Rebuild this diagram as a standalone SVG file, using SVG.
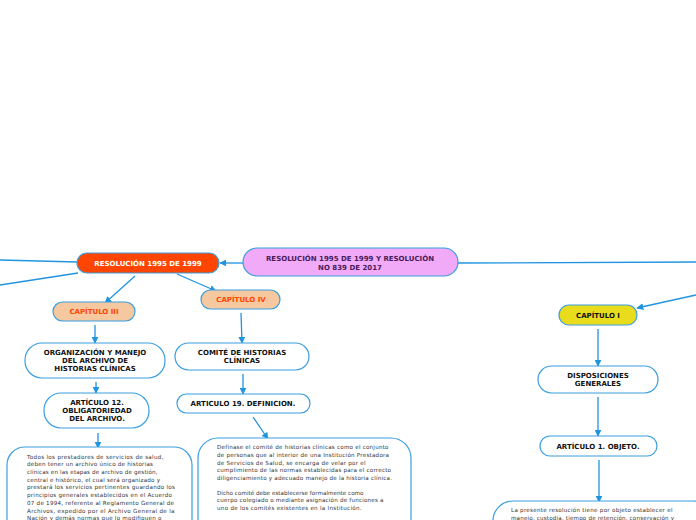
<svg xmlns="http://www.w3.org/2000/svg" width="696" height="520" viewBox="0 0 696 520">
<defs>
<marker id="ah" viewBox="0 0 10 10" refX="9" refY="5" markerWidth="7" markerHeight="7" markerUnits="userSpaceOnUse" orient="auto"><path d="M0,0 L10,5 L0,10 z" fill="#2094e0"/></marker>
<style>
.c{stroke:#2094e0;stroke-width:1.3;fill:none}
.n{stroke:#3a9fe0;stroke-width:1.2}
.w{fill:#ffffff}
.l{font-family:"DejaVu Sans",Verdana,sans-serif;font-weight:bold;font-size:7px;text-anchor:middle;fill:#111}
.b{font-family:"DejaVu Sans",Verdana,sans-serif;font-size:5.6px;fill:#333333}
</style>
</defs>
<rect width="696" height="520" fill="#ffffff"/>
<g id="connectors">
<line class="c" x1="243" y1="263" x2="220" y2="263" marker-end="url(#ah)"/>
<line class="c" x1="458" y1="263" x2="696" y2="262"/>
<line class="c" x1="77" y1="262" x2="0" y2="260"/>
<line class="c" x1="78" y1="273" x2="0" y2="285"/>
<line class="c" x1="135" y1="276" x2="105" y2="303" marker-end="url(#ah)"/>
<line class="c" x1="177" y1="274" x2="216" y2="291" marker-end="url(#ah)"/>
<line class="c" x1="95" y1="325" x2="95" y2="343" marker-end="url(#ah)"/>
<line class="c" x1="96" y1="382" x2="96" y2="393" marker-end="url(#ah)"/>
<line class="c" x1="98" y1="433" x2="98" y2="448" marker-end="url(#ah)"/>
<line class="c" x1="241" y1="313" x2="242" y2="343" marker-end="url(#ah)"/>
<line class="c" x1="243" y1="374" x2="243" y2="394" marker-end="url(#ah)"/>
<line class="c" x1="253" y1="417" x2="268" y2="439" marker-end="url(#ah)"/>
<line class="c" x1="696" y1="295" x2="637" y2="308" marker-end="url(#ah)"/>
<line class="c" x1="598" y1="329" x2="598" y2="366" marker-end="url(#ah)"/>
<line class="c" x1="598" y1="397" x2="598" y2="436" marker-end="url(#ah)"/>
<line class="c" x1="599" y1="460" x2="599" y2="502" marker-end="url(#ah)"/>
</g>
<g id="root">
<rect class="n" x="243" y="248" width="215" height="28" rx="14" fill="#f0aaf8"/>
<text class="l" x="350" y="261" style="fill:#4a1a5a">RESOLUCIÓN 1995 DE 1999 Y RESOLUCIÓN</text>
<text class="l" x="350" y="269.5" style="fill:#4a1a5a">NO 839 DE 2017</text>
</g>
<g id="res1995">
<rect class="n" x="77" y="253" width="142" height="20" rx="10" fill="#ff4500"/>
<text class="l" x="148" y="266" style="fill:#ffffff">RESOLUCIÓN 1995 DE 1999</text>
</g>
<g id="cap3">
<rect class="n" x="53" y="302" width="82" height="19" rx="9.5" fill="#f5c8a0"/>
<text class="l" x="94" y="314" style="fill:#ff4500">CAPÍTULO III</text>
</g>
<g id="cap4">
<rect class="n" x="201" y="290" width="79" height="19" rx="9.5" fill="#f5c8a0"/>
<text class="l" x="241" y="302" style="fill:#ff4500">CAPÍTULO IV</text>
</g>
<g id="organizacion">
<rect class="n w" x="25" y="343" width="140" height="35" rx="17"/>
<text class="l" x="95" y="355">ORGANIZACIÓN Y MANEJO</text>
<text class="l" x="95" y="363">DEL ARCHIVO DE</text>
<text class="l" x="95" y="371">HISTORIAS CLÍNICAS</text>
</g>
<g id="art12">
<rect class="n w" x="44" y="393" width="105" height="35" rx="17"/>
<text class="l" x="97" y="405">ARTÍCULO 12.</text>
<text class="l" x="97" y="413">OBLIGATORIEDAD</text>
<text class="l" x="97" y="421">DEL ARCHIVO.</text>
</g>
<g id="texto12">
<rect class="n w" x="7" y="447" width="185" height="90" rx="18"/>
<text class="b" x="27" y="458.5" textLength="136.5">Todos los prestadores de servicios de salud,</text>
<text class="b" x="27" y="466.3" textLength="126">deben tener un archivo único de historias</text>
<text class="b" x="27" y="474" textLength="130.5">clínicas en las etapas de archivo de gestión,</text>
<text class="b" x="27" y="481.7" textLength="133">central e histórico, el cual será organizado y</text>
<text class="b" x="27" y="489.4" textLength="148">prestará los servicios pertinentes guardando los</text>
<text class="b" x="27" y="497.1" textLength="145">principios generales establecidos en el Acuerdo</text>
<text class="b" x="27" y="504.8" textLength="147">07 de 1994, referente al Reglamento General de</text>
<text class="b" x="27" y="512.5" textLength="147.5">Archivos, expedido por el Archivo General de la</text>
<text class="b" x="27" y="520.2" textLength="134.5">Nación y demás normas que lo modifiquen o</text>
</g>
<g id="comite">
<rect class="n w" x="175" y="343" width="134" height="27" rx="13.5"/>
<text class="l" x="242" y="355">COMITÉ DE HISTORIAS</text>
<text class="l" x="242" y="363">CLÍNICAS</text>
</g>
<g id="art19">
<rect class="n w" x="177" y="394" width="133" height="19" rx="9.5"/>
<text class="l" x="243" y="406">ARTICULO 19. DEFINICION.</text>
</g>
<g id="texto19">
<rect class="n w" x="198" y="438" width="213" height="100" rx="20"/>
<text class="b" x="217" y="449.3" textLength="171.5">Defínase el comité de historias clínicas como el conjunto</text>
<text class="b" x="217" y="457" textLength="172">de personas que al interior de una Institución Prestadora</text>
<text class="b" x="217" y="464.7" textLength="148.5">de Servicios de Salud, se encarga de velar por el</text>
<text class="b" x="217" y="472.3" textLength="174">cumplimiento de las normas establecidas para el correcto</text>
<text class="b" x="217" y="479.8" textLength="175">diligenciamiento y adecuado manejo de la historia clínica.</text>
<text class="b" x="217" y="494.8" textLength="146.5">Dicho comité debe establecerse formalmente como</text>
<text class="b" x="217" y="502.4" textLength="166.5">cuerpo colegiado o mediante asignación de funciones a</text>
<text class="b" x="217" y="510" textLength="144.5">uno de los comités existentes en la Institución.</text>
</g>
<g id="cap1">
<rect class="n" x="559" y="305" width="78" height="20" rx="10" fill="#e8dc1c"/>
<text class="l" x="598" y="318">CAPÍTULO I</text>
</g>
<g id="disposiciones">
<rect class="n w" x="538" y="366" width="120" height="27" rx="13.5"/>
<text class="l" x="598" y="378">DISPOSICIONES</text>
<text class="l" x="598" y="386">GENERALES</text>
</g>
<g id="art1">
<rect class="n w" x="540" y="436" width="117" height="20" rx="10"/>
<text class="l" x="598" y="449">ARTÍCULO 1. OBJETO.</text>
</g>
<g id="texto1">
<rect class="n w" x="493" y="501" width="220" height="60" rx="20"/>
<text class="b" x="511" y="512.3" textLength="161.5">La presente resolución tiene por objeto establecer el</text>
<text class="b" x="511" y="520" textLength="163">manejo, custodia, tiempo de retención, conservación y</text>
</g>
</svg>
